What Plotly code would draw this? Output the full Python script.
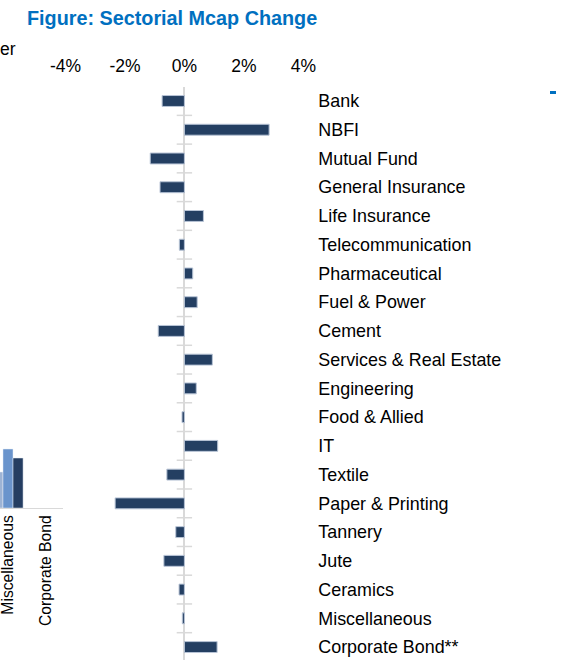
import plotly.graph_objects as go

# ---- main chart data ----
sectors = ["Bank", "NBFI", "Mutual Fund", "General Insurance", "Life Insurance",
           "Telecommunication", "Pharmaceutical", "Fuel & Power", "Cement",
           "Services & Real Estate", "Engineering", "Food & Allied", "IT", "Textile",
           "Paper & Printing", "Tannery", "Jute", "Ceramics", "Miscellaneous",
           "Corporate Bond**"]
mcap_change = [-0.75, 2.85, -1.15, -0.82, 0.64, -0.17, 0.28, 0.43, -0.88, 0.94,
               0.40, -0.08, 1.12, -0.59, -2.33, -0.29, -0.69, -0.18, -0.07, 1.10]
x_ticks = [-4, -2, 0, 2, 4]
x_ticktext = ["-4%", "-2%", "0%", "2%", "4%"]

# ---- fragment of the neighbouring chart (left edge) ----
frag_cats = ["Miscellaneous", "Corporate Bond"]
frag_s1 = [36, None]
frag_s2 = [59, None]
frag_s3 = [50, None]

W, H = 571, 660
T = 87
PH = H - T
row_px = 28.74
font = "Arial, Liberation Sans, sans-serif"
navy = "#243F62"
grey = "#D9D9D9"

idx = list(range(len(sectors)))
fig = go.Figure()

fig.add_trace(go.Bar(
    x=mcap_change, y=idx, orientation="h", width=0.38,
    marker=dict(color=navy, line=dict(color="#B8C4D6", width=1)),
    xaxis="x", yaxis="y", showlegend=False))

# category tick marks crossing the vertical axis at zero
fig.add_trace(go.Scatter(
    x=[0] * len(sectors), y=[i - 0.5 for i in idx], mode="markers",
    marker=dict(symbol="line-ew", size=11, line=dict(color=grey, width=1.5)),
    cliponaxis=False, hoverinfo="skip", showlegend=False, xaxis="x", yaxis="y"))

# fragment bars
fcols = ["#9DB3D4", "#6A94CC", "#253E62"]
for vals, c in zip([frag_s1, frag_s2, frag_s3], fcols):
    fig.add_trace(go.Bar(x=[0, 1], y=vals, marker=dict(color=c),
                         xaxis="x2", yaxis="y2", showlegend=False))

y_top = -14.0 / row_px
y_bot = y_top + PH / row_px

def px_y(ypx):
    return (H - ypx) / PH

fig.update_layout(
    width=W, height=H,
    margin=dict(l=0, r=0, t=T, b=0, autoexpand=False),
    paper_bgcolor="white", plot_bgcolor="white",
    font=dict(family=font, size=17.5, color="#000000"),
    barmode="group", bargap=0.2, bargroupgap=0,
    title=dict(text="<b>Figure: Sectorial Mcap Change</b>",
               font=dict(family=font, size=19.8, color="#0070C0"),
               x=27 / W, xanchor="left", xref="container",
               y=1 - 18.5 / H, yanchor="middle", yref="container"),
    xaxis=dict(domain=[65.5 / W, 303.3 / W], range=[-4, 4], side="top",
               tickvals=x_ticks, ticktext=x_ticktext, ticks="",
               ticklabelstandoff=11, automargin=False,
               showgrid=False, zeroline=True, zerolinecolor=grey,
               zerolinewidth=2, showline=False,
               tickfont=dict(size=17.5, color="#000000")),
    yaxis=dict(domain=[0, 1], range=[y_bot, y_top], side="right",
               tickvals=idx, ticktext=sectors, ticks="",
               ticklabelstandoff=14, automargin=False,
               showgrid=False, zeroline=False, showline=False,
               tickfont=dict(size=17.9, color="#000000")),
    xaxis2=dict(domain=[0, 63 / W], range=[-8 / 37.7, 55 / 37.7],
                anchor="y2", tickvals=[0, 1], ticktext=frag_cats,
                tickangle=-90, ticks="", showgrid=False, zeroline=False,
                automargin=False, ticklabeloverflow="allow",
                showline=True, linecolor=grey, linewidth=1,
                tickfont=dict(size=15.7, color="#000000")),
    yaxis2=dict(domain=[px_y(508), px_y(400)], range=[0, 108], anchor="x2",
                visible=False, showgrid=False, automargin=False),
    annotations=[dict(text="er", xref="paper", yref="paper",
                      x=18 / W, y=px_y(49), xanchor="right", yanchor="middle",
                      showarrow=False, font=dict(size=17.5, color="#000000"))],
    shapes=[dict(type="rect", xref="paper", yref="paper",
                 x0=550 / W, x1=556 / W, y0=px_y(94), y1=px_y(91),
                 fillcolor="#0070C0", line=dict(width=0))],
)

fig.write_html("out.html", config={"displayModeBar": False},
               post_script="document.body.style.margin='0';document.body.style.overflow='hidden';")
